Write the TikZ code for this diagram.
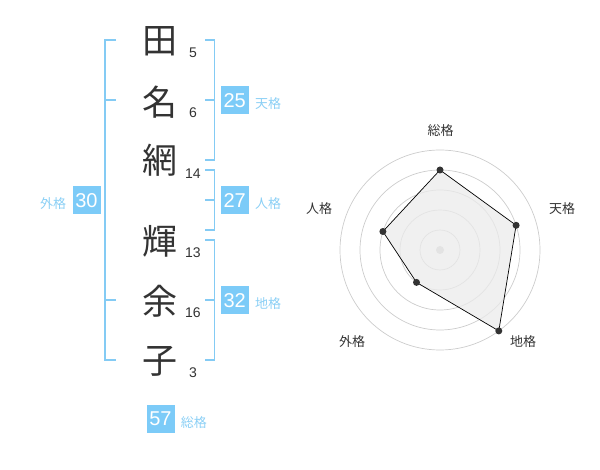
\documentclass[tikz,border=0pt]{standalone}
\usepackage{fontspec}
\setmainfont{Liberation Sans}
\newfontfamily\jpfont{Noto Sans CJK JP}
\usepackage{tikz}
\usetikzlibrary{positioning}

\definecolor{kakuBlue}{HTML}{7CCBF8}
\definecolor{kakuLine}{HTML}{84CBF4}
\definecolor{kakuText}{HTML}{8ACFF5}
\definecolor{inkGray}{HTML}{333333}
\definecolor{ringGray}{HTML}{CCCCCC}

\begin{document}
\begin{tikzpicture}[x=1pt,y=-1pt]
			\tikzstyle{Kanji}	= [inner sep=0pt, text=inkGray, font=\jpfont\fontsize{35}{35}\selectfont]
			\tikzstyle{Stroke}	= [inner sep=0pt, text=inkGray, font=\fontsize{14}{14}\selectfont]
			\tikzstyle{Score}	= [fill=kakuBlue, text=white, minimum size=28pt, inner sep=0pt, font=\fontsize{20}{20}\selectfont]
			\tikzstyle{Kaku}	= [inner sep=0pt, text=kakuText, yshift=-3.5pt, font=\jpfont\fontsize{13}{13}\selectfont]
			\tikzstyle{Axis}	= [inner sep=0pt, text=inkGray, font=\jpfont\fontsize{13}{13}\selectfont]
			\tikzstyle{Brace}	= [draw=kakuLine, line width=1.6pt]
			\tikzstyle{Ring}	= [draw=ringGray, line width=0.7pt]
			\tikzstyle{Dot}		= [circle, fill=inkGray, minimum size=7pt, inner sep=0pt]

			\useasboundingbox (0,0) rectangle (600,470);

			% name
			\node (k1) at (160,41.7)  [Kanji] {田};
			\node (k2) at (160,101.7) [Kanji] {名};
			\node (k3) at (160,160)   [Kanji] {網};
			\node (k4) at (160,241.7) [Kanji] {輝};
			\node (k5) at (160,301.7) [Kanji] {余};
			\node (k6) at (160,361.7) [Kanji] {子};

			\node (n1) at (193,52.7)  [Stroke] {5};
			\node (n2) at (193,112.7) [Stroke] {6};
			\node (n3) at (193,173.3) [Stroke] {14};
			\node (n4) at (193,252.3) [Stroke] {13};
			\node (n5) at (193,312.7) [Stroke] {16};
			\node (n6) at (193,372.7) [Stroke] {3};

			% brackets
			\draw [Brace] (116,40) -- (105,40) -- (105,360) -- (116,360);
			\draw [Brace] (105,100) -- (116,100);
			\draw [Brace] (105,300) -- (116,300);
			\draw [Brace] (205,40) -- (214.5,40) -- (214.5,160) -- (205,160);
			\draw [Brace] (205,100) -- (214.5,100);
			\draw [Brace] (205,170) -- (214.5,170) -- (214.5,230) -- (205,230);
			\draw [Brace] (205,200) -- (214.5,200);
			\draw [Brace] (205,240) -- (214.5,240) -- (214.5,360) -- (205,360);
			\draw [Brace] (205,300) -- (214.5,300);

			\node (gai)  at (86.5,200.3)  [Score] {30};
			\node (gaiL) [left=6pt of gai, Kaku] {外格};
			\node (ten)  at (234.7,100.5) [Score] {25};
			\node (tenL) [right=6pt of ten, Kaku] {天格};
			\node (jin)  at (234.7,200.3) [Score] {27};
			\node (jinL) [right=6pt of jin, Kaku] {人格};
			\node (chi)  at (234.7,300.3) [Score] {32};
			\node (chiL) [right=6pt of chi, Kaku] {地格};
			\node (sou)  at (160.5,419)   [Score] {57};
			\node (souL) [right=6pt of sou, Kaku] {総格};

			% radar
			\draw [Ring] (440,250) circle (20);
			\draw [Ring] (440,250) circle (40);
			\draw [Ring] (440,250) circle (60);
			\draw [Ring] (440,250) circle (80);
			\draw [Ring] (440,250) circle (100);
			\fill [ringGray] (440,250) circle (4);

			\coordinate (pSou) at (440,170);
			\coordinate (pTen) at (516.1,225.3);
			\coordinate (pChi) at (498.8,330.9);
			\coordinate (pGai) at (416.5,282.4);
			\coordinate (pJin) at (382.9,231.5);

			\draw [fill=black!8, fill opacity=0.75, draw=black, line width=0.7pt]
				(pSou) -- (pTen) -- (pChi) -- (pGai) -- (pJin) -- cycle;

			\node (dSou) at (pSou) [Dot] {};
			\node (dTen) at (pTen) [Dot] {};
			\node (dChi) at (pChi) [Dot] {};
			\node (dGai) at (pGai) [Dot] {};
			\node (dJin) at (pJin) [Dot] {};

			\node (aSou) at (440.7,130.7) [Axis] {総格};
			\node (aTen) at (562,209)     [Axis] {天格};
			\node (aChi) at (523,342)     [Axis] {地格};
			\node (aGai) at (352,342)     [Axis] {外格};
			\node (aJin) at (319,209)     [Axis] {人格};
		\end{tikzpicture}
\end{document}
